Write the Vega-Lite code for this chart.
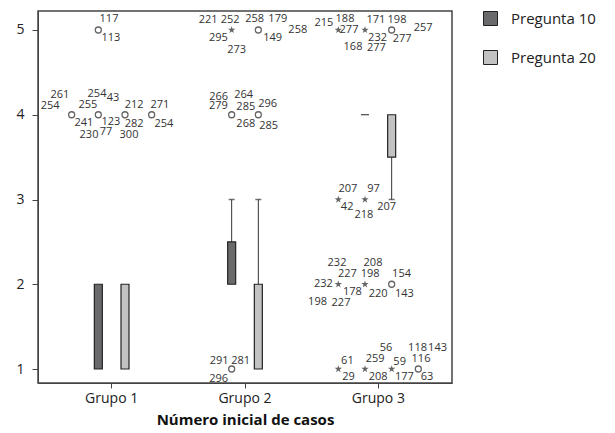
{
  "$schema": "https://vega.github.io/schema/vega-lite/v6.json",
  "width": 414,
  "height": 372,
  "autosize": {"type": "none"},
  "padding": {"left": 38, "top": 11, "right": 163, "bottom": 50},
  "config": {
    "font": "Open Sans",
    "view": {"stroke": "#444", "strokeWidth": 1.5},
    "axis": {"domainColor": "#444", "tickColor": "#444", "labelColor": "#222", "titleColor": "#111", "grid": false}
  },
  "datasets": {
    "boxes": [
      {"grupo": "Grupo 1", "pregunta": "Pregunta 10", "slot": -0.5, "q1": 1, "q3": 2},
      {"grupo": "Grupo 1", "pregunta": "Pregunta 20", "slot": 0.5, "q1": 1, "q3": 2},
      {"grupo": "Grupo 2", "pregunta": "Pregunta 10", "slot": -0.5, "q1": 2, "q3": 2.5},
      {"grupo": "Grupo 2", "pregunta": "Pregunta 20", "slot": 0.5, "q1": 1, "q3": 2},
      {"grupo": "Grupo 3", "pregunta": "Pregunta 10", "slot": -0.5, "q1": 4, "q3": 4},
      {"grupo": "Grupo 3", "pregunta": "Pregunta 20", "slot": 0.5, "q1": 3.5, "q3": 4}
    ],
    "whiskers": [
      {"grupo": "Grupo 2", "slot": -0.5, "from": 2.5, "to": 3},
      {"grupo": "Grupo 2", "slot": 0.5, "from": 2, "to": 3},
      {"grupo": "Grupo 3", "slot": 0.5, "from": 3.5, "to": 3}
    ],
    "points": [
      {"grupo": "Grupo 1", "slot": -0.5, "valor": 5, "tipo": "circle"},
      {"grupo": "Grupo 1", "slot": -1.5, "valor": 4, "tipo": "circle"},
      {"grupo": "Grupo 1", "slot": -0.5, "valor": 4, "tipo": "circle"},
      {"grupo": "Grupo 1", "slot": 0.5, "valor": 4, "tipo": "circle"},
      {"grupo": "Grupo 1", "slot": 1.5, "valor": 4, "tipo": "circle"},
      {"grupo": "Grupo 2", "slot": -0.5, "valor": 5, "tipo": "star"},
      {"grupo": "Grupo 2", "slot": 0.5, "valor": 5, "tipo": "circle"},
      {"grupo": "Grupo 2", "slot": -0.5, "valor": 4, "tipo": "circle"},
      {"grupo": "Grupo 2", "slot": 0.5, "valor": 4, "tipo": "circle"},
      {"grupo": "Grupo 2", "slot": -0.5, "valor": 1, "tipo": "circle"},
      {"grupo": "Grupo 3", "slot": -1.5, "valor": 5, "tipo": "star"},
      {"grupo": "Grupo 3", "slot": -0.5, "valor": 5, "tipo": "star"},
      {"grupo": "Grupo 3", "slot": 0.5, "valor": 5, "tipo": "circle"},
      {"grupo": "Grupo 3", "slot": -1.5, "valor": 3, "tipo": "star"},
      {"grupo": "Grupo 3", "slot": -0.5, "valor": 3, "tipo": "star"},
      {"grupo": "Grupo 3", "slot": -1.5, "valor": 2, "tipo": "star"},
      {"grupo": "Grupo 3", "slot": -0.5, "valor": 2, "tipo": "star"},
      {"grupo": "Grupo 3", "slot": 0.5, "valor": 2, "tipo": "circle"},
      {"grupo": "Grupo 3", "slot": -1.5, "valor": 1, "tipo": "star"},
      {"grupo": "Grupo 3", "slot": -0.5, "valor": 1, "tipo": "star"},
      {"grupo": "Grupo 3", "slot": 0.5, "valor": 1, "tipo": "star"},
      {"grupo": "Grupo 3", "slot": 1.5, "valor": 1, "tipo": "circle"}
    ],
    "labels": [
      {"grupo": "Grupo 1", "slot": -0.1, "valor": 5.135, "caso": "117"},
      {"grupo": "Grupo 1", "slot": -0.03, "valor": 4.9, "caso": "113"},
      {"grupo": "Grupo 1", "slot": -1.94, "valor": 4.235, "caso": "261"},
      {"grupo": "Grupo 1", "slot": -2.31, "valor": 4.106, "caso": "254"},
      {"grupo": "Grupo 1", "slot": -0.55, "valor": 4.247, "caso": "254"},
      {"grupo": "Grupo 1", "slot": 0.05, "valor": 4.2, "caso": "43"},
      {"grupo": "Grupo 1", "slot": -0.89, "valor": 4.118, "caso": "255"},
      {"grupo": "Grupo 1", "slot": 0.84, "valor": 4.118, "caso": "212"},
      {"grupo": "Grupo 1", "slot": 1.81, "valor": 4.118, "caso": "271"},
      {"grupo": "Grupo 1", "slot": -1.04, "valor": 3.906, "caso": "241"},
      {"grupo": "Grupo 1", "slot": -0.03, "valor": 3.918, "caso": "123"},
      {"grupo": "Grupo 1", "slot": 0.84, "valor": 3.894, "caso": "282"},
      {"grupo": "Grupo 1", "slot": 1.96, "valor": 3.894, "caso": "254"},
      {"grupo": "Grupo 1", "slot": -0.85, "valor": 3.765, "caso": "230"},
      {"grupo": "Grupo 1", "slot": -0.21, "valor": 3.8, "caso": "77"},
      {"grupo": "Grupo 1", "slot": 0.65, "valor": 3.765, "caso": "300"},
      {"grupo": "Grupo 2", "slot": -1.38, "valor": 5.112, "caso": "221"},
      {"grupo": "Grupo 2", "slot": -0.56, "valor": 5.112, "caso": "252"},
      {"grupo": "Grupo 2", "slot": -1.0, "valor": 4.9, "caso": "295"},
      {"grupo": "Grupo 2", "slot": -0.31, "valor": 4.759, "caso": "273"},
      {"grupo": "Grupo 2", "slot": 0.36, "valor": 5.135, "caso": "258"},
      {"grupo": "Grupo 2", "slot": 1.23, "valor": 5.135, "caso": "179"},
      {"grupo": "Grupo 2", "slot": 1.98, "valor": 4.994, "caso": "258"},
      {"grupo": "Grupo 2", "slot": 1.04, "valor": 4.9, "caso": "149"},
      {"grupo": "Grupo 2", "slot": -0.99, "valor": 4.212, "caso": "266"},
      {"grupo": "Grupo 2", "slot": -0.05, "valor": 4.235, "caso": "264"},
      {"grupo": "Grupo 2", "slot": -1.0, "valor": 4.106, "caso": "279"},
      {"grupo": "Grupo 2", "slot": 0.03, "valor": 4.094, "caso": "285"},
      {"grupo": "Grupo 2", "slot": 0.85, "valor": 4.129, "caso": "296"},
      {"grupo": "Grupo 2", "slot": 0.03, "valor": 3.894, "caso": "268"},
      {"grupo": "Grupo 2", "slot": 0.89, "valor": 3.871, "caso": "285"},
      {"grupo": "Grupo 2", "slot": -0.97, "valor": 1.1, "caso": "291"},
      {"grupo": "Grupo 2", "slot": -0.16, "valor": 1.1, "caso": "281"},
      {"grupo": "Grupo 2", "slot": -0.99, "valor": 0.888, "caso": "296"},
      {"grupo": "Grupo 3", "slot": -2.04, "valor": 5.088, "caso": "215"},
      {"grupo": "Grupo 3", "slot": -1.25, "valor": 5.135, "caso": "188"},
      {"grupo": "Grupo 3", "slot": -1.1, "valor": 4.994, "caso": "277"},
      {"grupo": "Grupo 3", "slot": -0.95, "valor": 4.794, "caso": "168"},
      {"grupo": "Grupo 3", "slot": -0.09, "valor": 5.112, "caso": "171"},
      {"grupo": "Grupo 3", "slot": 0.7, "valor": 5.112, "caso": "198"},
      {"grupo": "Grupo 3", "slot": -0.03, "valor": 4.9, "caso": "232"},
      {"grupo": "Grupo 3", "slot": -0.07, "valor": 4.782, "caso": "277"},
      {"grupo": "Grupo 3", "slot": 0.89, "valor": 4.888, "caso": "277"},
      {"grupo": "Grupo 3", "slot": 1.68, "valor": 5.018, "caso": "257"},
      {"grupo": "Grupo 3", "slot": -1.14, "valor": 3.129, "caso": "207"},
      {"grupo": "Grupo 3", "slot": -0.18, "valor": 3.118, "caso": "97"},
      {"grupo": "Grupo 3", "slot": -1.17, "valor": 2.906, "caso": "42"},
      {"grupo": "Grupo 3", "slot": -0.54, "valor": 2.812, "caso": "218"},
      {"grupo": "Grupo 3", "slot": 0.31, "valor": 2.906, "caso": "207"},
      {"grupo": "Grupo 3", "slot": -1.55, "valor": 2.247, "caso": "232"},
      {"grupo": "Grupo 3", "slot": -0.2, "valor": 2.247, "caso": "208"},
      {"grupo": "Grupo 3", "slot": -1.16, "valor": 2.118, "caso": "227"},
      {"grupo": "Grupo 3", "slot": -0.31, "valor": 2.118, "caso": "198"},
      {"grupo": "Grupo 3", "slot": 0.87, "valor": 2.118, "caso": "154"},
      {"grupo": "Grupo 3", "slot": -2.06, "valor": 2.0, "caso": "232"},
      {"grupo": "Grupo 3", "slot": -0.97, "valor": 1.906, "caso": "178"},
      {"grupo": "Grupo 3", "slot": -0.01, "valor": 1.882, "caso": "220"},
      {"grupo": "Grupo 3", "slot": 0.98, "valor": 1.882, "caso": "143"},
      {"grupo": "Grupo 3", "slot": -2.28, "valor": 1.788, "caso": "198"},
      {"grupo": "Grupo 3", "slot": -1.4, "valor": 1.776, "caso": "227"},
      {"grupo": "Grupo 3", "slot": 0.29, "valor": 1.253, "caso": "56"},
      {"grupo": "Grupo 3", "slot": 1.47, "valor": 1.253, "caso": "118"},
      {"grupo": "Grupo 3", "slot": 2.22, "valor": 1.253, "caso": "143"},
      {"grupo": "Grupo 3", "slot": -1.16, "valor": 1.1, "caso": "61"},
      {"grupo": "Grupo 3", "slot": -0.12, "valor": 1.124, "caso": "259"},
      {"grupo": "Grupo 3", "slot": 0.8, "valor": 1.088, "caso": "59"},
      {"grupo": "Grupo 3", "slot": 1.6, "valor": 1.124, "caso": "116"},
      {"grupo": "Grupo 3", "slot": -1.12, "valor": 0.9, "caso": "29"},
      {"grupo": "Grupo 3", "slot": -0.01, "valor": 0.9, "caso": "208"},
      {"grupo": "Grupo 3", "slot": 0.98, "valor": 0.9, "caso": "177"},
      {"grupo": "Grupo 3", "slot": 1.83, "valor": 0.9, "caso": "63"}
    ]
  },
  "encoding": {
    "x": {
      "field": "grupo",
      "type": "nominal",
      "scale": {"domain": ["Grupo 1", "Grupo 2", "Grupo 3"], "paddingInner": 0, "paddingOuter": 0.0525},
      "title": "Número inicial de casos",
      "axis": {"labelAngle": 0, "labelFontSize": 14, "titleFontSize": 15, "titleFontWeight": "bold", "tickSize": 5, "labelPadding": 3, "titlePadding": 7}
    },
    "xOffset": {
      "field": "slot",
      "type": "quantitative",
      "scale": {"domain": [-2.5, 2.5], "range": [0, 133.33]}
    }
  },
  "layer": [
    {
      "data": {"name": "whiskers"},
      "mark": {"type": "rule", "color": "#333", "strokeWidth": 1},
      "encoding": {
        "y": {"field": "from", "type": "quantitative", "scale": {"domain": [0.835, 5.224], "nice": false, "zero": false}, "axis": {"values": [1, 2, 3, 4, 5], "format": "d", "title": null, "labelFontSize": 14, "tickSize": 6, "labelPadding": 8}},
        "y2": {"field": "to"}
      }
    },
    {
      "data": {"name": "whiskers"},
      "mark": {"type": "tick", "color": "#333", "size": 6, "thickness": 1.5, "orient": "horizontal"},
      "encoding": {
        "y": {"field": "to", "type": "quantitative"}
      }
    },
    {
      "data": {"name": "boxes"},
      "mark": {"type": "bar", "width": 8, "stroke": "#222", "strokeWidth": 1.2},
      "encoding": {
        "y": {"field": "q1", "type": "quantitative"},
        "y2": {"field": "q3"},
        "color": {
          "field": "pregunta",
          "type": "nominal",
          "scale": {"domain": ["Pregunta 10", "Pregunta 20"], "range": ["#6a6a6c", "#c2c2c2"]},
          "legend": {"orient": "none", "legendX": 445, "legendY": 0, "title": null, "symbolType": "square", "symbolSize": 196, "symbolStrokeColor": "#222", "symbolStrokeWidth": 1, "labelFontSize": 15, "labelColor": "#222", "labelOffset": 13, "rowPadding": 20, "padding": 0}
        }
      }
    },
    {
      "data": {"name": "points"},
      "transform": [{"filter": "datum.tipo === 'circle'"}],
      "mark": {"type": "point", "shape": "circle", "filled": false, "stroke": "#222", "strokeWidth": 1.3, "size": 36},
      "encoding": {
        "y": {"field": "valor", "type": "quantitative"}
      }
    },
    {
      "data": {"name": "points"},
      "transform": [{"filter": "datum.tipo === 'star'"}],
      "mark": {"type": "point", "shape": "M0,-1L0.2245,-0.309L0.9511,-0.309L0.3633,0.118L0.5878,0.809L0,0.382L-0.5878,0.809L-0.3633,0.118L-0.9511,-0.309L-0.2245,-0.309Z", "filled": true, "color": "#222", "size": 60},
      "encoding": {
        "y": {"field": "valor", "type": "quantitative"}
      }
    },
    {
      "data": {"name": "labels"},
      "mark": {"type": "text", "fontSize": 11, "color": "#333", "align": "center", "baseline": "middle"},
      "encoding": {
        "y": {"field": "valor", "type": "quantitative"},
        "text": {"field": "caso", "type": "nominal"}
      }
    }
  ]
}
